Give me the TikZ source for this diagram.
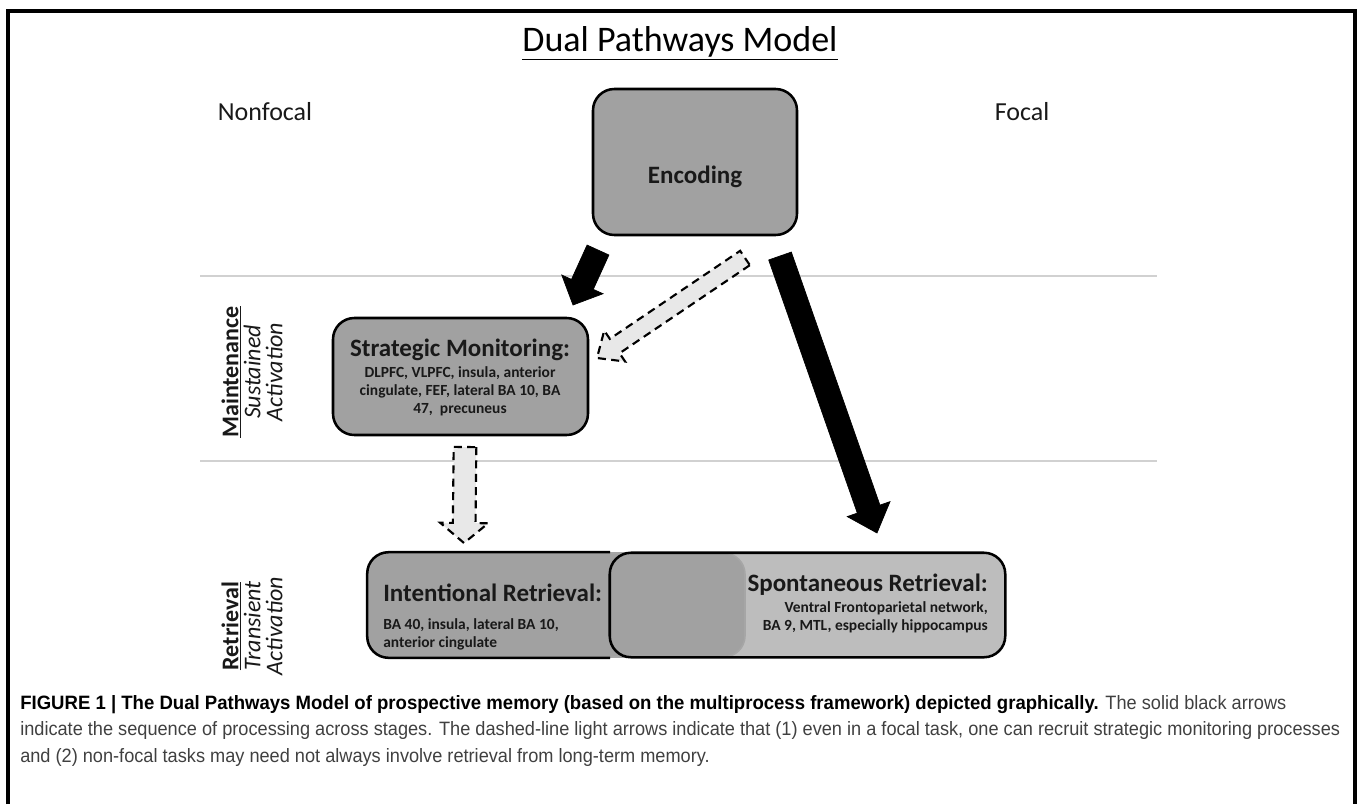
\documentclass[tikz,border=0pt]{standalone}
\usepackage{fontspec}
\setmainfont{Carlito}
\newfontfamily\capfont[FakeStretch=0.94,BoldFeatures={FakeStretch=0.96}]{Liberation Sans}
\usetikzlibrary{calc,fit}
\definecolor{boxdark}{gray}{0.63}
\definecolor{boxlight}{gray}{0.74}
\definecolor{sepline}{gray}{0.82}
\definecolor{arrowlight}{gray}{0.91}
\definecolor{txt}{gray}{0.1}
\definecolor{captxt}{gray}{0.25}
\newcommand{\myfs}[2]{\fontsize{#1}{#2}\selectfont}
% block arrow: #1 style, #2 tail, #3 tip, #4 half shaft, #5 half head, #6 head length
\newcommand{\blockarr}[6]{%
  \coordinate (ba-h) at ($(#3)!#6!(#2)$);
  \draw[#1] ($(#2)!#4!90:(#3)$) -- ($(ba-h)!#4!90:(#3)$) -- ($(ba-h)!#5!90:(#3)$)
    -- (#3) -- ($(ba-h)!#5!-90:(#3)$) -- ($(ba-h)!#4!-90:(#3)$) -- ($(#2)!#4!-90:(#3)$) -- cycle;}
\begin{document}
\begin{tikzpicture}[x=0.75pt,y=-0.75pt,
  boxline/.style={draw=black, line width=1.9pt, rounded corners=16pt},
  boxbase/.style={inner sep=0pt, rounded corners=16pt},
  sep/.style={draw=sepline, line width=1.2pt},
  solidarr/.style={fill=black, draw=black, line width=0.5pt, line join=miter},
  dasharr/.style={fill=arrowlight, draw=black, line width=1.6pt, dash pattern=on 6pt off 4pt, line join=miter},
  headtxt/.style={text=txt, font=\bfseries\myfs{18.75pt}{22pt}, inner sep=0pt},
  bodytxt/.style={text=txt, font=\bfseries\myfs{11.6pt}{13.4pt}, inner sep=0pt},
  captxtstyle/.style={anchor=base west, inner sep=0pt, text=captxt, font=\capfont\myfs{14.5pt}{17pt}}]
\useasboundingbox (0,0) rectangle (1360,804);

% frame
\draw[line width=2.4pt] (8,804) -- (8,11) -- (1355,11) -- (1355,804);

% title and column labels
\node[text=black, font=\myfs{27pt}{32pt}, inner sep=0pt] (title) at (680,43) {\underline{Dual Pathways Model}};
\node[text=txt, font=\myfs{19.5pt}{22pt}, inner sep=0pt] (nonfocal) at (265,112) {Nonfocal};
\node[text=txt, font=\myfs{19.5pt}{22pt}, inner sep=0pt] (focal) at (1022,112) {Focal};

% separator lines
\coordinate (s1a) at (200,276); \coordinate (s1b) at (1157,276);
\coordinate (s2a) at (200,461); \coordinate (s2b) at (1157,461);
\draw[sep] (s1a) -- (s1b);
\draw[sep] (s2a) -- (s2b);

% side labels
\node[rotate=90, align=center, text=txt, font=\myfs{18pt}{16.5pt}, inner sep=0pt] (lmaint) at (252,372)
  {\textbf{\underline{Maintenance}}\\\textit{Sustained}\\\textit{Activation}};
\node[rotate=90, align=center, text=txt, font=\myfs{18pt}{16.5pt}, inner sep=0pt] (lretr) at (252,626)
  {\textbf{\underline{Retrieval}}\\\textit{Transient}\\\textit{Activation}};

% Encoding
\node[boxbase, boxline, fill=boxdark, fit={(593,89) (797,235)}] (enc) {};
\node[headtxt] (enct) at (695,177) {Encoding};

% Strategic monitoring
\node[boxbase, boxline, fill=boxdark, fit={(333,318) (588,435)}] (sm) {};
\node[headtxt] (smt) at (460,350) {Strategic Monitoring:};
\node[bodytxt, align=center] (smb) at (460,391) {DLPFC, VLPFC, insula, anterior\\cingulate, FEF, lateral BA 10, BA\\47,\ \ precuneus};

% Retrieval boxes
\node[boxbase, fill=boxlight, fit={(610,553) (1005,657)}] (sr) {};
\node[boxbase, fill=boxdark, draw=gray!70, line width=1.2pt, fit={(368,553) (745,657)}] (ir) {};
\begin{scope}
  \clip (0,0) rectangle (610,804);
  \draw[boxline] (ir.south west) rectangle (ir.north east);
\end{scope}
\draw[boxline] (sr.south west) rectangle (sr.north east);

\node[headtxt, anchor=west] (irt) at (383,593) {Intentional Retrieval:};
\node[bodytxt, anchor=west, align=left] (irb) at (383,634.5) {BA 40, insula, lateral BA 10,\\anterior cingulate};
\node[headtxt, anchor=east] (srt) at (988,585) {Spontaneous Retrieval:};
\node[bodytxt, anchor=east, align=right] (srb) at (988,617.5) {Ventral Frontoparietal network,\\BA 9, MTL, especially hippocampus};

% arrows
\coordinate (a1t) at (598,250); \coordinate (a1h) at (573,305);
\blockarr{solidarr}{a1t}{a1h}{9pt}{17pt}{17pt}
\coordinate (a2t) at (780,256); \coordinate (a2h) at (877,533);
\blockarr{solidarr}{a2t}{a2h}{9pt}{17pt}{19pt}
\coordinate (a3t) at (745,258); \coordinate (a3h) at (597,358);
\blockarr{dasharr}{a3t}{a3h}{6.5pt}{14pt}{16pt}
\coordinate (a4t) at (465,447); \coordinate (a4h) at (464,543);
\blockarr{dasharr}{a4t}{a4h}{8.5pt}{18pt}{15pt}

% caption
\node[captxtstyle] (cap1) at (20,709) {{\color{black}\bfseries FIGURE 1 | The Dual Pathways Model of prospective memory (based on the multiprocess framework) depicted graphically.} The solid black arrows};
\node[captxtstyle] (cap2) at (20,735) {indicate the sequence of processing across stages. The dashed-line light arrows indicate that (1) even in a focal task, one can recruit strategic monitoring processes};
\node[captxtstyle] (cap3) at (20,762) {and (2) non-focal tasks may need not always involve retrieval from long-term memory.};
\end{tikzpicture}
\end{document}
